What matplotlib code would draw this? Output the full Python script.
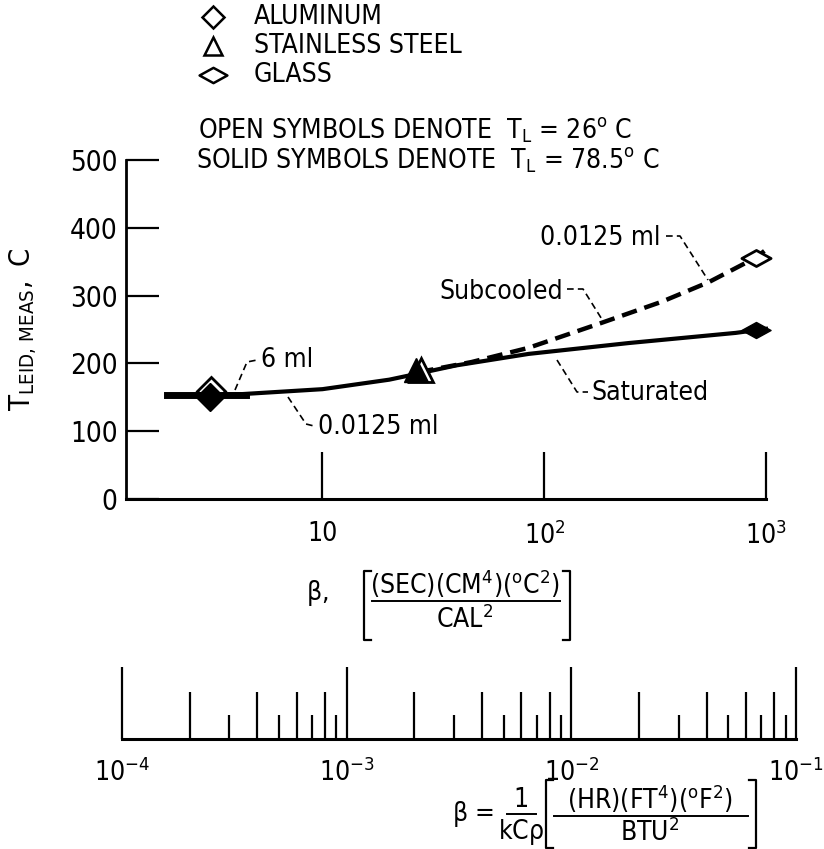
import numpy as np
import matplotlib
matplotlib.use('Agg')
import matplotlib.pyplot as plt
from matplotlib.lines import Line2D
from matplotlib.path import Path
from matplotlib import font_manager

# look for a narrow face, the scan looks like a condensed grotesk
names = set(f.name for f in font_manager.fontManager.ttflist)
stretches = sorted(set((f.name, f.stretch) for f in font_manager.fontManager.ttflist
                       if 'Condensed' in f.fname or 'Narrow' in f.fname or f.stretch != 'normal'))
print(stretches)

plt.rcParams['font.family'] = ['DejaVu Sans']
plt.rcParams['font.stretch'] = 'condensed'
plt.rcParams['mathtext.fontset'] = 'custom'
plt.rcParams['mathtext.rm'] = 'DejaVu Sans:stretch=condensed'
plt.rcParams['mathtext.it'] = 'DejaVu Sans:stretch=condensed'

# measured points (beta in cgs units, T_LEID in C)
al_beta = [3.15, 3.1]          # open, solid
al_temp = [160, 150]
ss_beta = [27.8, 26.5]
ss_temp = [190, 190]
gl_beta = [900, 900]
gl_temp = [356, 250]

# curves
sat_beta = [2.0, 4.0, 10.0, 20.0, 27.0, 40.0, 85.0, 240.0, 730.0, 1000.0]
sat_temp = [153, 154, 162, 176, 185, 197, 214, 230, 245, 251]
sub_beta = [27.0, 47.0, 85.0, 182.0, 339.0, 553.0, 900.0, 1030.0]
sub_temp = [187, 202, 223, 260, 291, 320, 356, 371]
ml6_beta = [2.0, 4.5]
ml6_temp = [153, 153]

W, H = 824, 849


def px(x, y):
  return x / W, 1 - y / H


fig = plt.figure(figsize=(W / 100, H / 100), dpi=100)
fs = 19

# main axes
ax = fig.add_axes([126 / W, 1 - 499 / H, (766 - 126) / W, (499 - 160) / H])
ax.set_xscale('log')
ax.set_xlim(1.3, 1000)
ax.set_ylim(0, 500)
ax.spines['top'].set_visible(False)
ax.spines['right'].set_visible(False)
ax.spines['left'].set_linewidth(2)
ax.spines['bottom'].set_linewidth(2.2)
ax.set_yticks(range(0, 501, 100))
ax.set_xticks([10, 100, 1000])
ax.set_xticklabels(['10', r'$\mathrm{10^2}$', r'$\mathrm{10^3}$'])
ax.xaxis.set_minor_locator(matplotlib.ticker.NullLocator())
ax.tick_params(axis='y', direction='in', length=24, width=1.6, labelsize=fs + 1, pad=6)
ax.tick_params(axis='x', direction='in', length=34, width=1.6, labelsize=fs, pad=16)
ax.set_ylabel(r'$\mathrm{T_{LEID,\,MEAS},\ C}$', fontsize=21, labelpad=22)

ax.plot(sat_beta, sat_temp, '-', color='black', lw=3, clip_on=False, zorder=2)
ax.plot(sub_beta, sub_temp, color='black', lw=3.2, clip_on=False, zorder=2,
        linestyle=(0, (3.5, 1.8)))
ax.plot(ml6_beta, ml6_temp, '-', color='black', lw=5, zorder=2)

wide = Path([(-1, 0), (0, 0.55), (1, 0), (0, -0.55), (-1, 0)],
            [Path.MOVETO, Path.LINETO, Path.LINETO, Path.LINETO, Path.CLOSEPOLY])

ax.plot(al_beta[1], al_temp[1], 'D', ms=14, mfc='black', mec='black', zorder=3)
ax.plot(al_beta[0], al_temp[0], 'D', ms=14, mfc='none', mec='black', mew=2, zorder=4)
ax.plot(ss_beta[0], ss_temp[0], '^', ms=17, mfc='white', mec='black', mew=2, zorder=3)
ax.plot(ss_beta[1], ss_temp[1], '^', ms=17, mfc='black', mec='black', zorder=4)
ax.plot(gl_beta[0], gl_temp[0], marker=wide, ms=21, mfc='white', mec='black', mew=2,
        zorder=4, clip_on=False)
ax.plot(gl_beta[1], gl_temp[1], marker=wide, ms=21, mfc='black', mec='black',
        zorder=4, clip_on=False)

# legend block
legend_rows = [(17, 'D', 11, 'ALUMINUM'), (46, '^', 13, 'STAINLESS STEEL'), (75, wide, 20, 'GLASS')]
for yy, mk, ms, name in legend_rows:
  fig.add_artist(Line2D([px(213, yy)[0]], [px(213, yy)[1]], transform=fig.transFigure,
                        marker=mk, ms=ms, mfc='white', mec='black', mew=1.8, ls='none'))
  fig.text(*px(254, yy), name, fontsize=fs, va='center', ha='left')

fig.text(*px(198, 130), r'OPEN SYMBOLS DENOTE  T$_\mathrm{L}$ = 26$^\mathrm{o}$ C',
         fontsize=fs, va='center', ha='left')
fig.text(*px(196, 160), r'SOLID SYMBOLS DENOTE  T$_\mathrm{L}$ = 78.5$^\mathrm{o}$ C',
         fontsize=fs, va='center', ha='left')

# curve annotations with dashed leaders
leaders = [
  [(235, 390), (247, 362), (257, 360)],
  [(288, 397), (306, 424), (314, 426)],
  [(567, 289), (583, 289), (603, 321)],
  [(666, 236), (680, 236), (708, 280)],
  [(557, 360), (577, 392), (588, 392)],
]
for pts in leaders:
  xs = [px(*p)[0] for p in pts]
  ys = [px(*p)[1] for p in pts]
  fig.add_artist(Line2D(xs, ys, transform=fig.transFigure, color='black', lw=1.2,
                        linestyle=(0, (4, 2.5))))

fig.text(*px(261, 360), '6 ml', fontsize=fs, va='center', ha='left')
fig.text(*px(318, 427), '0.0125 ml', fontsize=fs, va='center', ha='left')
fig.text(*px(563, 292), 'Subcooled', fontsize=fs, va='center', ha='right')
fig.text(*px(661, 238), '0.0125 ml', fontsize=fs, va='center', ha='right')
fig.text(*px(591, 393), 'Saturated', fontsize=fs, va='center', ha='left')


def bracket(x0, x1, ytop, ybot):
  for xe, d in [(x0, 7), (x1, -7)]:
    xs = [px(xe + d, ytop)[0], px(xe, ytop)[0], px(xe, ybot)[0], px(xe + d, ybot)[0]]
    ys = [px(xe + d, ytop)[1], px(xe, ytop)[1], px(xe, ybot)[1], px(xe + d, ybot)[1]]
    fig.add_artist(Line2D(xs, ys, transform=fig.transFigure, color='black', lw=1.6))


def frac_line(x0, x1, y):
  fig.add_artist(Line2D([px(x0, y)[0], px(x1, y)[0]], [px(x0, y)[1], px(x1, y)[1]],
                        transform=fig.transFigure, color='black', lw=1.4))


# x label, cgs units
fig.text(*px(317, 593), r'$\mathrm{\beta},$', fontsize=fs, va='center', ha='center')
bracket(364, 570, 571, 640)
fig.text(*px(465, 584), r'(SEC)(CM$^\mathrm{4}$)($^\mathrm{o}$C$^\mathrm{2}$)', fontsize=fs,
         va='center', ha='center')
frac_line(372, 560, 601)
fig.text(*px(465, 620), r'CAL$^\mathrm{2}$', fontsize=fs, va='center', ha='center')

# second scale, english units
ax2 = fig.add_axes([122 / W, 1 - 739 / H, 674 / W, 90 / H])
ax3 = fig.add_axes([122 / W, 1 - 739 / H, 674 / W, 90 / H])
for a in (ax2, ax3):
  a.set_xscale('log')
  a.set_xlim(1e-4, 1e-1)
  a.set_ylim(0, 1)
  a.set_yticks([])
  a.patch.set_visible(False)
  for s in ['top', 'left', 'right']:
    a.spines[s].set_visible(False)
ax3.spines['bottom'].set_visible(False)
ax2.spines['bottom'].set_linewidth(2.2)

decades = [1e-4, 1e-3, 1e-2]
ax2.set_xticks([1e-4, 1e-3, 1e-2, 1e-1])
ax2.set_xticklabels([r'$\mathrm{10^{-4}}$', r'$\mathrm{10^{-3}}$', r'$\mathrm{10^{-2}}$',
                     r'$\mathrm{10^{-1}}$'])
ax2.set_xticks([d * m for d in decades for m in (2, 4, 6, 8)], minor=True)
ax2.tick_params(axis='x', which='major', direction='in', length=52, width=1.6,
                labelsize=fs, pad=14)
ax2.tick_params(axis='x', which='minor', direction='in', length=34, width=1.6)
ax3.set_xticks([], minor=False)
ax3.set_xticks([d * m for d in decades for m in (3, 5, 7, 9)], minor=True)
ax3.tick_params(axis='x', which='minor', direction='in', length=17, width=1.6)
ax3.tick_params(axis='x', which='major', length=0)

# bottom formula
fig.text(*px(497, 814), r'$\mathrm{\beta}$ = ', fontsize=fs, va='center', ha='right')
fig.text(*px(521, 800), '1', fontsize=fs, va='center', ha='center')
frac_line(507, 536, 814)
fig.text(*px(521, 832), r'kC$\mathrm{\rho}$', fontsize=fs, va='center', ha='center')
bracket(546, 756, 780, 848)
fig.text(*px(650, 799), r'(HR)(FT$^\mathrm{4}$)($^\mathrm{o}$F$^\mathrm{2}$)', fontsize=fs,
         va='center', ha='center')
frac_line(554, 748, 816)
fig.text(*px(650, 833), r'BTU$^\mathrm{2}$', fontsize=fs, va='center', ha='center')

fig.savefig('out.png', dpi=100)
